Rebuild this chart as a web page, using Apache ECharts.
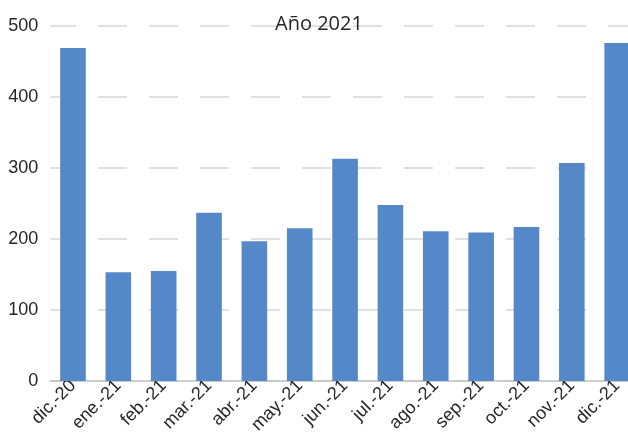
<!DOCTYPE html>
<html>
<head>
<meta charset="utf-8">
<script src="https://cdn.jsdelivr.net/npm/echarts@6/dist/echarts.min.js"></script>
<style>
  html, body { margin: 0; padding: 0; background: #ffffff; }
  #chart { width: 628px; height: 435px; }
</style>
</head>
<body>
<div id="chart"></div>
<script>
// Monthly totals, December 2020 to December 2021
const months = ['dic.-20', 'ene.-21', 'feb.-21', 'mar.-21', 'abr.-21', 'may.-21', 'jun.-21',
                'jul.-21', 'ago.-21', 'sep.-21', 'oct.-21', 'nov.-21', 'dic.-21'];
const totals = [469, 153, 155, 237, 197, 215, 313, 248, 211, 209, 217, 307, 476];
const yTicks = [0, 100, 200, 300, 400, 500];
const subtitle = 'Año 2021';

const labelFont = '"Liberation Sans", Arial, sans-serif';

const chart = echarts.init(document.getElementById('chart'), null, { renderer: 'canvas' });
chart.setOption({
  animation: false,
  backgroundColor: '#ffffff',
  title: {
    text: subtitle,
    left: 270,
    top: 9,
    textStyle: { fontFamily: '"Open Sans", sans-serif', fontSize: 20, fontWeight: 'normal', color: '#262626' }
  },
  grid: { left: 50.3, top: 26, width: 45.35 * 13, height: 355, outerBoundsMode: 'none' },
  xAxis: {
    type: 'category',
    data: months,
    axisTick: { show: false },
    axisLine: { lineStyle: { color: '#c0c0c0', width: 1.5 } },
    axisLabel: {
      interval: 0,
      rotate: 45,
      margin: 2,
      padding: [20, 0, 0, 0],
      hideOverlap: false,
      fontFamily: labelFont,
      fontSize: 18,
      color: '#262626'
    }
  },
  yAxis: {
    type: 'value',
    min: yTicks[0],
    max: yTicks[yTicks.length - 1],
    interval: 100,
    axisLine: { show: false },
    axisTick: { show: false },
    axisLabel: { margin: 12, fontFamily: labelFont, fontSize: 18, color: '#262626' },
    splitLine: { lineStyle: { color: '#d6d6d6', width: 1.5, type: [29, 22], dashOffset: 3.3 } }
  },
  series: [{
    type: 'bar',
    data: totals,
    barWidth: 25.6,
    itemStyle: { color: '#5588c8' }
  }]
});
</script>
</body>
</html>
